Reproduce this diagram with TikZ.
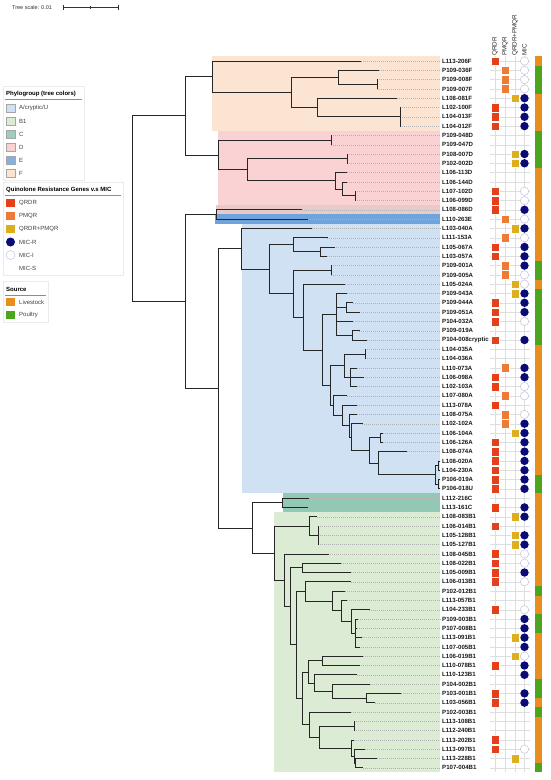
\documentclass[tikz,border=0pt]{standalone}
\usepackage{fontspec}
\setmainfont{Liberation Sans}
\definecolor{cF}{HTML}{FCE4D2}
\definecolor{cD}{HTML}{FAD2D4}
\definecolor{cDE}{HTML}{E9C9CA}
\definecolor{cE}{HTML}{6FA3DB}
\definecolor{cA}{HTML}{D0E1F3}
\definecolor{cC}{HTML}{92C9B5}
\definecolor{cB}{HTML}{DCEBD3}
\definecolor{qrdr}{HTML}{E5401B}
\definecolor{pmqr}{HTML}{EE7A36}
\definecolor{qp}{HTML}{DDAE1E}
\definecolor{micr}{HTML}{0B0B78}
\definecolor{live}{HTML}{E88E1C}
\definecolor{poul}{HTML}{4BA61E}
\newcommand\tn[4]{\draw[br] (#1,#2) -- (#1,#3); \foreach \cx/\cy in {#4} {\draw[br] (#1,\cy) -- (\cx,\cy);}}
\newcommand\tv[3]{\draw[br] (#1,#2) -- (#1,#3);}
\begin{document}
\begin{tikzpicture}[x=1pt,y=-1pt,
  br/.style={line width=0.8pt, draw=black!85, line cap=rect},
  lead/.style={draw=black!30, line width=0.35pt, dash pattern=on 0.7pt off 1.3pt},
  leaf/.style={font=\fontsize{6.1}{6.1}\selectfont\bfseries, anchor=west, inner sep=0, text=black!90},
  hdr/.style={font=\fontsize{6.3}{6.3}\selectfont, anchor=west, inner sep=0, rotate=90, text=black!85},
  grid/.style={draw=black!13, line width=0.4pt},
  gsq/.style={minimum width=8.6pt, minimum height=8.6pt, inner sep=0, draw=white, line width=0.3pt},
  mic/.style={circle, minimum size=8.4pt, inner sep=0},
  lgbox/.style={fill=white, draw=black!8, line width=0.4pt},
  lgtitle/.style={font=\fontsize{6}{6}\selectfont\bfseries, anchor=west, inner sep=0},
  lgtext/.style={font=\fontsize{6}{6}\selectfont, anchor=west, inner sep=0, text=black!75},
  sw/.style={minimum width=8.6pt, minimum height=8.6pt, inner sep=0, draw=black!35, line width=0.3pt}]
\useasboundingbox (0,0) rectangle (550,780);
\fill[white] (0,0) rectangle (550,780);
% clade bands
\fill[cF] (211.7,56.35) rectangle (440,130.75);
\fill[cD] (218.3,130.75) rectangle (440,205.15);
\fill[cDE] (216,205.15) rectangle (440,214.45);
\fill[cE] (215.3,214.45) rectangle (440,223.75);
\fill[cA] (241.7,223.75) rectangle (440,493.45);
\fill[cC] (282.7,493.45) rectangle (440,512.05);
\fill[cB] (274,512.05) rectangle (440,772.45);
% grid
\foreach \x in {495,505,515,524.5} \draw[grid] (\x,56.35) -- (\x,772.45);
% header
\node[hdr] (hq) at (495,56) {QRDR};
\node[hdr] (hp) at (505,56) {PMQR};
\node[hdr] (hqp) at (515,56) {QRDR+PMQR};
\node[hdr] (hm) at (524.5,56) {MIC};
% leaves
\foreach \i/\nm/\tx/\g/\m/\s in {
1/L113-206F/361/1/2/live, 2/P109-036F/379/2/2/poul, 3/P109-008F/377/2/2/poul, 4/P109-007F/377/2/2/poul,
5/L108-081F/397/3/1/live, 6/L102-100F/400/1/1/live, 7/L104-013F/400/1/1/live, 8/L104-012F/400/1/1/live,
9/P109-048D/331/0/0/poul, 10/P109-047D/331/0/0/poul, 11/P108-007D/347/3/1/poul, 12/P102-002D/347/3/1/poul,
13/L106-113D/347/0/0/live, 14/L106-144D/347/0/0/live, 15/L107-102D/355/1/2/live, 16/L106-099D/355/1/2/live,
17/L108-086D/302/1/1/live, 18/L110-263E/308/2/2/live, 19/L103-040A/311.7/3/1/live, 20/L111-153A/327.3/2/2/live,
21/L105-067A/334.3/1/1/live, 22/L103-057A/326.7/1/1/live, 23/P109-001A/331/2/1/poul, 24/P109-005A/331/2/2/poul,
25/L105-024A/345/3/2/live, 26/P109-043A/346.7/3/1/poul, 27/P109-044A/352.7/1/1/poul, 28/P109-051A/359.3/1/1/poul,
29/P104-032A/352.7/1/2/poul, 30/P109-019A/359.3/0/0/poul, 31/P104-008cryptic/366.7/1/1/poul, 32/L104-035A/365/0/0/live,
33/L104-036A/365/0/0/live, 34/L110-073A/356.7/2/1/live, 35/L106-098A/363.3/1/1/live, 36/L102-103A/356.7/1/2/live,
37/L107-080A/346.7/2/2/live, 38/L113-078A/356.7/1/0/live, 39/L108-075A/356.7/2/2/live, 40/L102-102A/362.3/2/1/live,
41/L106-104A/382.5/3/1/live, 42/L106-126A/382.5/1/1/live, 43/L108-074A/406.7/1/1/live, 44/L108-020A/440/1/1/live,
45/L104-230A/440/1/1/live, 46/P106-019A/440/1/1/poul, 47/P106-018U/440/1/1/poul, 48/L112-216C/308.3/0/0/live,
49/L113-161C/307.3/1/1/live, 50/L108-083B1/316.7/3/1/live, 51/L106-014B1/318.3/1/0/live, 52/L105-128B1/318.3/3/1/live,
53/L105-127B1/318.3/3/1/live, 54/L108-045B1/328.3/1/2/live, 55/L108-022B1/341/1/2/live, 56/L105-009B1/350.7/1/1/live,
57/L106-013B1/350.7/1/2/live, 58/P102-012B1/345/0/0/poul, 59/L113-057B1/346.7/0/0/live, 60/L104-233B1/369.3/1/2/live,
61/P109-003B1/357.7/0/1/poul, 62/P107-008B1/356.7/0/1/poul, 63/L113-091B1/362/3/1/live, 64/L107-005B1/359.3/0/1/live,
65/L106-019B1/362.7/3/2/live, 66/L110-078B1/359.3/1/1/live, 67/L110-123B1/356.7/0/1/live, 68/P104-002B1/370/0/0/poul,
69/P103-001B1/401/1/1/poul, 70/L103-056B1/375/1/1/live, 71/P102-003B1/350.7/0/0/poul, 72/L113-108B1/354/0/0/live,
73/L112-240B1/354/0/0/live, 74/L113-202B1/354/1/0/live, 75/L113-097B1/365/1/2/live, 76/L113-228B1/376.7/3/0/live,
77/P107-004B1/362.7/0/0/poul}{
  \pgfmathsetmacro\yy{61+(\i-1)*9.3}
  \ifdim\tx pt<439pt \draw[lead] (\tx,\yy) -- (440,\yy);\fi
  \node[leaf] (l\i) at (442,\yy) {\nm};
  \draw[grid] (490,\yy) -- (529.5,\yy);
  \ifcase\g\relax\or
    \node[gsq, fill=qrdr] (g\i) at (495,\yy) {};\or
    \node[gsq, fill=pmqr] (g\i) at (505,\yy) {};\or
    \node[gsq, fill=qp] (g\i) at (515,\yy) {};\fi
  \ifcase\m\relax\or
    \node[mic, fill=micr] (m\i) at (524.5,\yy) {};\or
    \node[mic, fill=white, draw=micr!25, line width=0.5pt] (m\i) at (524.5,\yy) {};\fi
  \fill[\s] (535,\yy-4.66) rectangle (542,\yy+4.66);
}
% ---- tree ----
% F
\tn{212}{61}{92.4}{361/61, 291/92.4}
\tn{291}{77.3}{107.5}{338/77.3, 317/107.5}
\tn{338}{70.3}{84.25}{379/70.3, 377/84.25}
\tv{377}{79.6}{88.9}
\tn{317}{98.2}{116.8}{397/98.2, 400/116.8}
\tv{400}{107.5}{126.1}
% D
\tn{218}{140.05}{169.7}{331/140.05, 247/169.7}
\tv{331}{135.4}{144.7}
\tn{247}{158.65}{180.75}{347/158.65, 335/180.75}
\tv{347}{154}{163.3}
\tn{335}{172.6}{188.9}{347/172.6, 342/188.9}
\tn{342}{181.9}{195.85}{347/181.9, 355/195.85}
\tv{355}{191.2}{200.5}
\tn{185}{76.7}{154.9}{212/76.7, 218/154.9}
% E
\tn{216.7}{209.8}{219.1}{302/209.8, 308/219.1}
% A
\tn{241.7}{228.4}{269.2}{311.7/228.4, 269.3/269.2}
\tn{269.3}{244.7}{293.7}{293.3/244.7, 293.3/293.7}
\tn{293.3}{237.7}{251.65}{327.3/237.7, 320.7/251.65}
\tn{320.7}{247}{256.3}{334.3/247, 326.7/256.3}
\tn{293.3}{270.25}{317.1}{331/270.25, 303.3/317.1}
\tv{331}{265.6}{274.9}
\tn{303.3}{284.2}{350}{345/284.2, 322.7/350}
\tn{322.7}{314.4}{385.6}{336.7/314.4, 330/385.6}
\tn{336.7}{293.5}{335.35}{346.7/293.5, 346.7/307.45, 352.7/321.4, 352.7/335.35}
\tn{346.7}{302.8}{312.1}{352.7/302.8, 359.3/312.1}
\tn{352.7}{330.7}{340}{359.3/330.7, 366.7/340}
\tn{330}{365.6}{405.6}{344/365.6, 333.3/405.6}
\tn{344}{353.95}{377.2}{365/353.95, 350/377.2}
\tv{365}{349.3}{358.6}
\tn{350}{367.9}{386.5}{356.7/367.9, 363.3/377.2, 356.7/386.5}
\tn{333.3}{395.8}{415.4}{346.7/395.8, 342.7/415.4}
\tn{342.7}{405.1}{425.7}{356.7/405.1, 349/425.7}
\tn{349}{414.4}{437.05}{356.7/414.4, 351.7/437.05}
\tn{351.7}{423.7}{450.4}{362.3/423.7, 369.3/450.4}
\tn{369.3}{437.65}{463.2}{380/437.65, 378.3/463.2}
\tn{380}{433}{442.3}{382.5/433, 382.5/442.3}
\tn{378.3}{451.6}{474.85}{406.7/451.6, 435/474.85}
\tn{435}{465.55}{484.15}{438/465.55, 438/484.15}
\tn{438}{460.9}{470.2}{440/460.9, 440/470.2}
\tn{438}{479.5}{488.8}{440/479.5, 440/488.8}
% C
\tn{282.7}{498.1}{507.4}{308.3/498.1, 307.3/507.4}
% B1
\tn{274}{526}{580.1}{309/526, 284/580.1}
\tn{309}{516.7}{535.3}{316.7/516.7, 318.3/535.3}
\tv{318.3}{526}{544.6}
\tn{284}{553.9}{606.3}{328.3/553.9, 290.7/606.3}
\tn{290.7}{567.85}{644.8}{302.7/567.85, 296.7/644.8}
\tn{302.7}{563.2}{572.5}{341/563.2, 350.7/572.5}
\tn{296.7}{591.4}{698.2}{305.3/591.4, 302.7/698.2}
\tn{305.3}{581.8}{601}{350.7/581.8, 332.3/601}
\tn{332.3}{591.1}{610.85}{345/591.1, 341/610.85}
\tn{341}{600.4}{621.3}{346.7/600.4, 351.7/621.3}
\tn{351.7}{609.7}{632.95}{369.3/609.7, 355/632.95}
\tn{355}{619}{646.9}{357.7/619, 356.7/628.3, 362/637.6, 359.3/646.9}
\tn{302.7}{671.9}{724.5}{308.3/671.9, 309/724.5}
\tn{308.3}{660.85}{682.95}{322.3/660.85, 314.3/682.95}
\tn{322.3}{656.2}{665.5}{362.7/656.2, 359.3/665.5}
\tn{314.3}{674.8}{691.1}{356.7/674.8, 332.7/691.1}
\tn{332.7}{684.1}{698.05}{370/684.1, 366/698.05}
\tn{366}{693.4}{702.7}{401/693.4, 375/702.7}
\tn{309}{712}{737}{350.7/712, 319.3/737}
\tn{319.3}{725.95}{748.05}{354/725.95, 351.7/748.05}
\tv{354}{721.3}{730.6}
\tn{351.7}{739.9}{756.2}{354/739.9, 354/756.2}
\tn{354}{749.2}{763.15}{365/749.2, 355/763.15}
\tn{355}{758.5}{767.8}{376.7/758.5, 362.7/767.8}
% backbone
\tn{252.3}{502.75}{553.05}{282.7/502.75, 274/553.05}
\tn{218.3}{248.8}{527.9}{241.7/248.8, 252.3/527.9}
\tn{185}{214.45}{388.35}{216.7/214.45, 218.3/388.35}
\tn{132}{115.8}{301.4}{185/115.8, 185/301.4}
% tree scale
\node[font=\fontsize{5.5}{5.5}\selectfont, anchor=west, inner sep=0, text=black!80] (ts) at (12,7.5) {Tree scale: 0.01};
\draw[line width=0.6pt, black!80] (63,7.5) -- (118,7.5);
\draw[line width=0.6pt, black!80] (63,5) -- (63,10) (118,5) -- (118,10) (90.5,6.2) -- (90.5,8.8);
% legend: phylogroup
\draw[lgbox] (3,86) rectangle (84,180);
\node[lgtitle] (lt1) at (6,94) {Phylogroup (tree colors)};
\draw[black!45, line width=0.4pt] (5,99.5) -- (82,99.5);
\node[sw, fill=cA] (s1) at (10.5,108) {}; \node[lgtext] at (19,108) {A/cryptic/U};
\node[sw, fill=cB] (s2) at (10.5,121) {}; \node[lgtext] at (19,121) {B1};
\node[sw, fill=cC!80!cA] (s3) at (10.5,134) {}; \node[lgtext] at (19,134) {C};
\node[sw, fill=cD] (s4) at (10.5,147) {}; \node[lgtext] at (19,147) {D};
\node[sw, fill=cE!85!white] (s5) at (10.5,160) {}; \node[lgtext] at (19,160) {E};
\node[sw, fill=cF] (s6) at (10.5,173) {}; \node[lgtext] at (19,173) {F};
% legend: genes
\draw[lgbox] (3,182) rectangle (123,275);
\node[lgtitle] (lt2) at (6,190) {Quinolone Resistance Genes v.s MIC};
\draw[black!45, line width=0.4pt] (5,195.5) -- (121,195.5);
\node[sw, fill=qrdr, draw=none] (q1) at (10.5,203) {}; \node[lgtext] at (19,203) {QRDR};
\node[sw, fill=pmqr, draw=none] (q2) at (10.5,216) {}; \node[lgtext] at (19,216) {PMQR};
\node[sw, fill=qp, draw=none] (q3) at (10.5,229) {}; \node[lgtext] at (19,229) {QRDR+PMQR};
\node[mic, fill=micr, minimum size=9pt] (q4) at (10.5,242) {}; \node[lgtext] at (19,242) {MIC-R};
\node[mic, fill=white, draw=micr!25, line width=0.5pt, minimum size=9pt] (q5) at (10.5,255) {}; \node[lgtext] at (19,255) {MIC-I};
\node[lgtext] at (19,268) {MIC-S};
% legend: source
\draw[lgbox] (3,281) rectangle (48,322);
\node[lgtitle] (lt3) at (6,289.5) {Source};
\draw[black!45, line width=0.4pt] (5,295) -- (46,295);
\node[sw, fill=live, draw=none] (o1) at (10.5,302) {}; \node[lgtext] at (19,302) {Livestock};
\node[sw, fill=poul, draw=none] (o2) at (10.5,315) {}; \node[lgtext] at (19,315) {Poultry};
\end{tikzpicture}
\end{document}
